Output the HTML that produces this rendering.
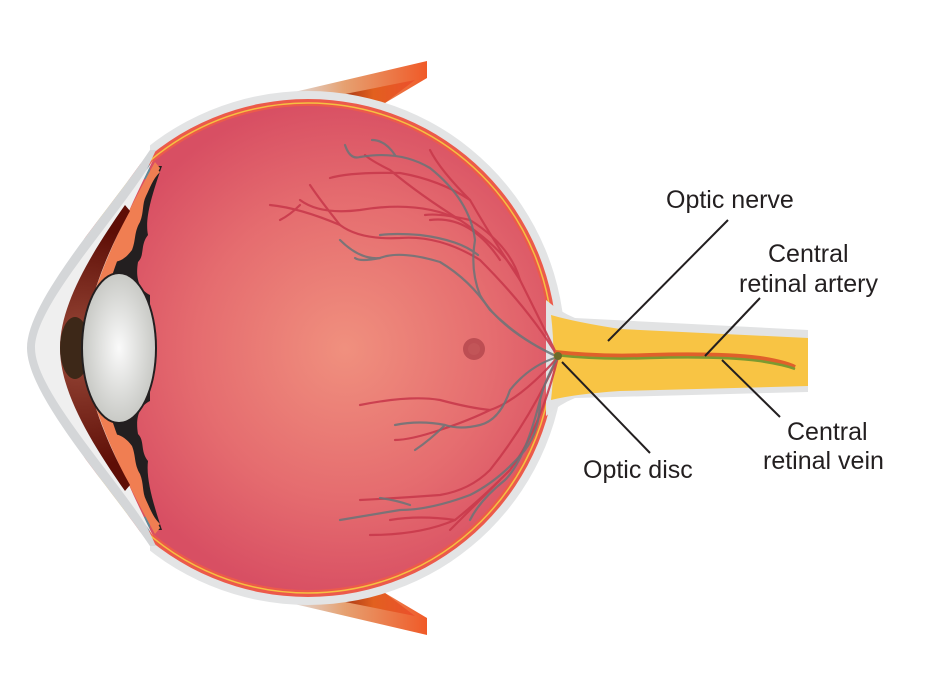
<!DOCTYPE html>
<html><head><meta charset="utf-8"><style>
html,body{margin:0;padding:0;background:#fff;}
svg{display:block}
text{font-family:"Liberation Sans",sans-serif;font-size:25px;fill:#231f20}
</style></head><body>
<svg width="943" height="675" viewBox="0 0 943 675" xmlns="http://www.w3.org/2000/svg">
<defs>
<radialGradient id="ret" cx="345" cy="349" r="250" gradientUnits="userSpaceOnUse">
<stop offset="0" stop-color="#f0907e"/><stop offset="0.6" stop-color="#e56c6f"/><stop offset="1" stop-color="#d84f63"/>
</radialGradient>
<radialGradient id="lens" cx="0.5" cy="0.5" r="0.5">
<stop offset="0" stop-color="#fafafa"/><stop offset="1" stop-color="#c9cac6"/>
</radialGradient>
<linearGradient id="mus" x1="290" y1="0" x2="427" y2="0" gradientUnits="userSpaceOnUse">
<stop offset="0" stop-color="#e0dcdc"/><stop offset="0.4" stop-color="#e6a070"/><stop offset="1" stop-color="#f05a28"/>
</linearGradient>
<linearGradient id="mus2" x1="320" y1="0" x2="427" y2="0" gradientUnits="userSpaceOnUse">
<stop offset="0" stop-color="#7a1a10"/><stop offset="0.5" stop-color="#e2601f"/><stop offset="1" stop-color="#ee4a30"/>
</linearGradient>
<radialGradient id="iris" cx="80" cy="348" r="120" gradientUnits="userSpaceOnUse">
<stop offset="0" stop-color="#9a4a3a"/><stop offset="1" stop-color="#5e0e06"/>
</radialGradient>
</defs>
<!-- muscles -->
<path d="M290,93 L427,61 L427,78 L385,103 Z" fill="url(#mus)"/>
<path d="M320,99 L415,80 L385,103 Z" fill="url(#mus2)"/>
<path d="M290,603 L427,635 L427,618 L385,593 Z" fill="url(#mus)"/>
<path d="M320,597 L415,616 L385,593 Z" fill="url(#mus2)"/>
<!-- globe -->
<circle cx="308" cy="348" r="257" fill="#e3e4e5"/>
<circle cx="308" cy="348" r="249" fill="#ec5a4a"/>
<circle cx="308" cy="348" r="245" fill="none" stroke="#f5c142" stroke-width="1.5"/>
<circle cx="308" cy="348" r="242" fill="url(#ret)"/>
<!-- optic nerve -->
<path d="M546,300 Q560,312 575,318 L808,330 L808,392 L575,398 Q560,404 546,416 Z" fill="#e2e3e4"/>
<path d="M551,315 Q575,322 620,329 L808,338 L808,386 L620,391 Q575,394 551,400 Q556,357 551,315Z" fill="#f8c444"/>
<!-- vessels -->
<g fill="none" stroke-linecap="round">
<g stroke="#c93a4c" stroke-width="2.2" opacity="0.9">
<path d="M558,357 Q540,320 520,280 Q505,250 460,220 Q420,200 360,210 Q320,215 300,200"/>
<path d="M520,280 Q490,235 470,200 Q440,170 430,150"/>
<path d="M460,220 Q420,195 390,170 Q370,160 365,155"/>
<path d="M470,200 Q440,180 400,173 Q350,172 330,178"/>
<path d="M558,357 Q530,310 480,260 Q440,235 400,238 Q360,240 340,225 Q320,200 310,185"/>
<path d="M340,225 Q300,208 270,205"/>
<path d="M300,205 Q290,215 280,220"/>
<path d="M520,280 Q510,245 470,220 Q440,213 425,215"/>
<path d="M500,260 Q470,215 430,220"/>
<path d="M558,357 Q520,400 490,410 Q470,408 440,400 Q410,395 360,405"/>
<path d="M490,410 Q470,420 440,430 Q410,440 395,440"/>
<path d="M558,357 Q530,420 490,470 Q470,490 440,495 Q400,498 360,500"/>
<path d="M558,357 Q540,430 510,470 Q480,500 455,520 Q420,535 370,535"/>
<path d="M500,480 Q470,510 450,530"/>
<path d="M455,520 Q420,515 390,520"/>
</g>
<g stroke="#6a7478" stroke-width="2.2" opacity="0.85">
<path d="M558,357 Q500,330 480,295 Q470,270 475,240 Q470,200 430,168 Q400,150 360,157 Q350,160 345,145"/>
<path d="M395,155 Q385,140 372,140"/>
<path d="M478,255 Q460,240 420,235 Q395,233 380,235"/>
<path d="M558,357 Q520,340 490,310 Q470,280 440,262 Q400,250 380,258 Q360,260 340,240"/>
<path d="M380,258 Q360,262 355,258"/>
<path d="M558,357 Q530,365 510,390 Q500,420 480,425 Q460,430 445,425 Q420,420 395,425"/>
<path d="M445,425 Q430,440 415,450"/>
<path d="M558,357 Q545,380 540,400 Q540,430 525,450 Q500,480 470,495 Q430,510 400,510 Q370,515 340,520"/>
<path d="M540,400 Q525,460 505,480 Q480,500 470,520"/>
<path d="M410,505 Q395,500 380,498"/>
</g>
</g>
<circle cx="474" cy="349" r="11" fill="#b84a50" opacity="0.9"/>
<circle cx="474" cy="349" r="6" fill="#c45a5c" opacity="0.6"/>
<!-- central vessels -->
<path d="M555,352 Q600,357 650,355 Q720,353 760,358 Q785,362 795,367" fill="none" stroke="#e0602a" stroke-width="4"/>
<path d="M555,355 Q600,360 650,358 Q720,356 760,361 Q785,365 795,369" fill="none" stroke="#7c9a30" stroke-width="2.5"/>
<circle cx="558" cy="356" r="4" fill="#6a6a2a"/>
<!-- white cover left of cornea -->
<path d="M0,0 L150,0 L150,150 C110,210 27,300 27,348 C27,396 110,486 150,546 L150,675 L0,675 Z" fill="#fff"/>
<!-- conjunctiva flaps -->
<path d="M136,172 L148,155 L152,185 Z" fill="#5f8796"/>
<path d="M136,524 L148,541 L152,511 Z" fill="#5f8796"/>
<!-- cornea outer gray -->
<path d="M150,150 C110,210 27,300 27,348 C27,396 110,486 150,546 L156,546 C125,480 98,420 98,348 C98,276 125,216 156,150 Z" fill="#d4d6d8"/>
<!-- cornea inner light -->
<path d="M153,160 C116,220 35,305 35,348 C35,391 116,476 153,536 C124,476 96,420 96,348 C96,276 124,220 153,160 Z" fill="#efefef"/>
<!-- black region -->
<path d="M158,166 C124,228 98,300 98,348 C98,396 124,468 158,530 L162,530 C152,500 146,478 148,461 C140,451 145,441 138,434 C135,416 140,406 150,401 L150,295 C140,290 135,280 138,262 C145,255 140,245 148,235 C145,220 150,200 162,166 Z" fill="#231f20"/>
<!-- orange band -->
<path d="M155,162 C120,225 84,300 84,348 C84,396 120,471 155,534 L160,528 C127,468 98,396 98,348 C98,300 127,228 160,168 Z" fill="#f07e52"/>
<!-- orange inner blobs -->
<path d="M158,170 C140,200 124,225 112,262 C120,262 126,258 132,250 C136,240 134,232 140,222 C144,212 142,204 146,196 C150,188 152,180 160,172 Z" fill="#f07e52"/>
<path d="M158,526 C140,496 124,471 112,434 C120,434 126,438 132,446 C136,456 134,464 140,474 C144,484 142,492 146,500 C150,508 152,516 160,524 Z" fill="#f07e52"/>
<!-- iris crescent -->
<path d="M125,205 C90,255 60,305 60,348 C60,391 90,441 125,491 L130,485 C105,440 86,390 84,348 C86,306 105,256 130,211 Z" fill="url(#iris)"/>
<ellipse cx="75" cy="348" rx="15" ry="31" fill="#3d2818"/>
<!-- lens -->
<ellipse cx="119" cy="348" rx="38" ry="76" fill="#231f20"/>
<ellipse cx="119" cy="348" rx="36" ry="74" fill="url(#lens)"/>
<!-- leader lines -->
<g stroke="#231f20" stroke-width="2">
<line x1="728" y1="220" x2="608" y2="341"/>
<line x1="760" y1="298" x2="705" y2="356"/>
<line x1="722" y1="360" x2="780" y2="417"/>
<line x1="562" y1="362" x2="650" y2="453"/>
</g>
<text x="666" y="208">Optic nerve</text>
<text x="768" y="262">Central</text>
<text x="739" y="292">retinal artery</text>
<text x="787" y="440">Central</text>
<text x="763" y="469">retinal vein</text>
<text x="583" y="478">Optic disc</text>
</svg>
</body></html>
